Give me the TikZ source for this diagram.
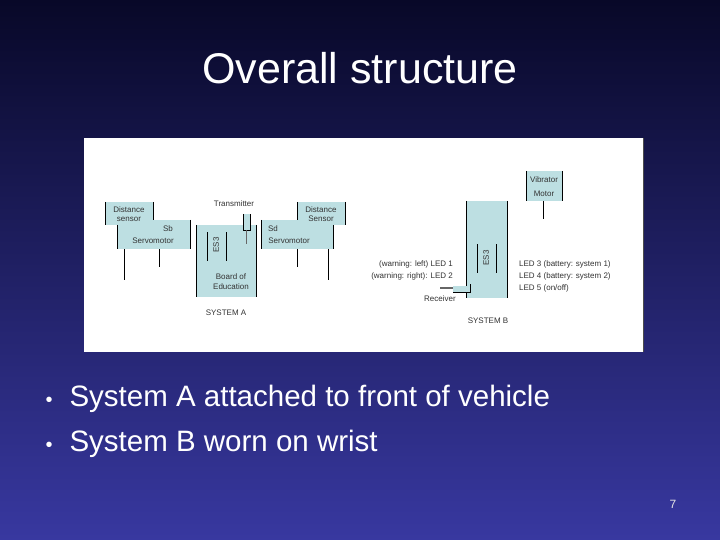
\documentclass[tikz,border=0pt]{standalone}
\usepackage{fontspec}
\setmainfont{Liberation Sans}
\definecolor{teal}{HTML}{BDDFE2}
\definecolor{bgtop}{HTML}{080828}
\definecolor{bgbot}{HTML}{3838A0}
\tikzset{
  part/.style={fill=teal,draw=none},
  side/.style={draw=black,line width=0.7pt},
  lbl/.style={font=\fontsize{8}{9}\selectfont,inner sep=0pt,text=black!80},
  big/.style={text=white,anchor=base west,font=\fontsize{29.5}{34}\selectfont},
}
\begin{document}
\begin{tikzpicture}[x=1pt,y=-1pt]
\useasboundingbox (0,0) rectangle (720,540);
\shade[top color=bgtop,bottom color=bgbot] (0,0) rectangle (720,540);
\node[text=white,font=\fontsize{43}{48}\selectfont] (title) at (360,68) {Overall structure};
\fill[white] (84,138) rectangle (643,352);
\draw[black!70,line width=1pt] (643,138) -- (643,352);
% System A left
\fill[part] (105,202) rectangle (153,225);
\fill[part] (117,220) rectangle (190,249);
\draw[side] (105,202) -- (105,225) (153,202) -- (153,220) (117,225) -- (117,249) (190,220) -- (190,249);
\node[lbl] (ds1a) at (129,210) {Distance};
\node[lbl] (ds1b) at (129,219) {sensor};
\node[lbl] (sb) at (168,229) {Sb};
\node[lbl] (sm1) at (153,241) {Servomotor};
\draw[side] (124,249) -- (124,280) (159,249) -- (159,267);
% board A
\fill[part] (196,225) rectangle (256,297);
\draw[side] (196,225) -- (196,297) (256,225) -- (256,297) (207,232) -- (207,261) (226,232) -- (226,261);
\node[lbl,rotate=90] (es3a) at (216,245) {ES3};
\fill[part] (243,214) rectangle (250,230);
\draw[black,line width=0.6pt] (243,214) -- (243,230) -- (250,230) -- (250,214);
\draw[black!60,line width=1.5pt] (246.5,230) -- (246.5,244);
\node[lbl] (tx) at (234,204) {Transmitter};
\node[lbl] (boea) at (231,277) {Board of};
\node[lbl] (boeb) at (231,287) {Education};
% System A right
\fill[part] (297,202) rectangle (345,225);
\fill[part] (261,220) rectangle (333,249);
\draw[side] (297,202) -- (297,220) (345,202) -- (345,225) (261,220) -- (261,249) (333,225) -- (333,249);
\node[lbl] (ds2a) at (321,210) {Distance};
\node[lbl] (ds2b) at (321,219) {Sensor};
\node[lbl] (sd) at (273,229) {Sd};
\node[lbl] (sm2) at (289,241) {Servomotor};
\draw[side] (297,249) -- (297,267) (328,249) -- (328,280);
\node[lbl] (sa) at (226,313) {SYSTEM A};
% System B
\fill[part] (526,171) rectangle (562,201);
\draw[side] (526,171) -- (526,201) (562,171) -- (562,201) (543,201) -- (543,219);
\node[lbl] (vib1) at (544,180) {Vibrator};
\node[lbl] (vib2) at (544,194) {Motor};
\fill[part] (466,201) rectangle (507,298);
\draw[side] (466,201) -- (466,298) (507,201) -- (507,298) (477,244) -- (477,273) (496,244) -- (496,273);
\node[lbl,rotate=90] (es3b) at (486,258) {ES3};
\node[lbl,anchor=east] (l1) at (453,264) {(warning: left) LED 1};
\node[lbl,anchor=east] (l2) at (453,276) {(warning: right): LED 2};
\fill[part] (453,286) rectangle (470,292);
\draw[black,line width=0.6pt] (470,284) -- (470,292) -- (453,292);
\draw[black!60,line width=1.5pt] (440,288) -- (453,288);
\node[lbl] (rx) at (440,299) {Receiver};
\node[lbl,anchor=west] (l3) at (519,264) {LED 3 (battery: system 1)};
\node[lbl,anchor=west] (l4) at (519,276) {LED 4 (battery: system 2)};
\node[lbl,anchor=west] (l5) at (519,288) {LED 5 (on/off)};
\node[lbl] (sbb) at (488,321) {SYSTEM B};
% bullets
\node[big,font=\fontsize{20}{24}\selectfont] (d1) at (42,406) {\textbullet};
\node[big] (b1) at (66,406) {System A attached to front of vehicle};
\node[big,font=\fontsize{20}{24}\selectfont] (d2) at (42,451) {\textbullet};
\node[big] (b2) at (66,451) {System B worn on wrist};
\node[text=white!80!gray,font=\fontsize{12}{13}\selectfont] (pg) at (673,504) {7};
\end{tikzpicture}
\end{document}
